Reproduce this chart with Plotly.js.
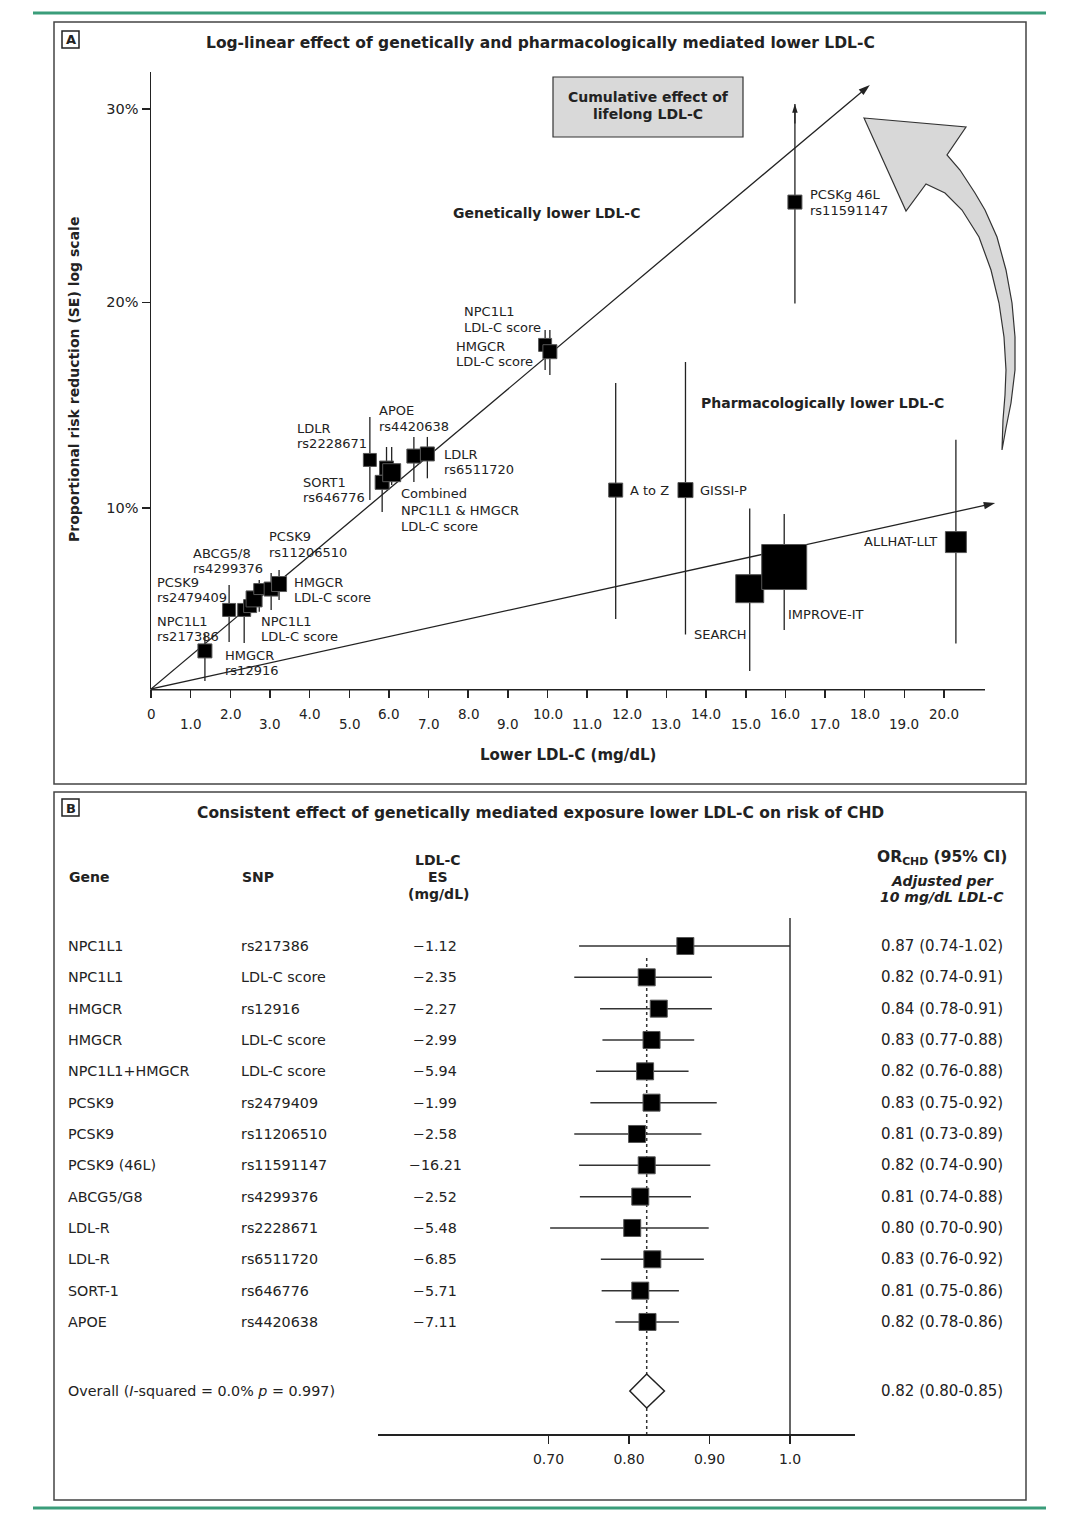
<!DOCTYPE html>
<html><head><meta charset="utf-8">
<script src="https://cdn.plot.ly/plotly-3.0.1.min.js"></script>
<style>html,body{margin:0;padding:0;background:#fff;} #chart{width:1079px;height:1520px;}</style>
</head><body><div id="chart"></div>
<script>
// ================= DATA =================
// Panel A: genetically mediated lower LDL-C (x: lower LDL-C mg/dL, y: position on the published risk-reduction scale)
const geneticNames = ['NPC1L1 rs217386','PCSK9 rs2479409','HMGCR rs12916','NPC1L1 LDL-C score (a)','NPC1L1 LDL-C score (b)','ABCG5/8 rs4299376','PCSK9 rs11206510','HMGCR LDL-C score',
  'LDLR rs2228671','SORT1 rs646776','Combined (a)','Combined (b)','APOE rs4420638','LDLR rs6511720',
  'NPC1L1 LDL-C score','HMGCR LDL-C score','PCSK9 46L rs11591147'];
const geneticX  = [1.36, 1.97, 2.35, 2.50, 2.60, 2.73, 3.03, 3.23, 5.52, 5.83, 5.94, 6.07, 6.63, 6.97, 9.94, 10.06, 16.24];
const geneticY  = [1.97, 4.09, 4.09, 4.29, 4.66, 5.17, 5.17, 5.43, 11.85, 10.69, 11.43, 11.19, 12.05, 12.16, 17.80, 17.45, 25.19];
const geneticHi = [2.85, 5.38, 4.45, 4.97, 5.12, 5.64, 6.00, 6.16, 14.07, 11.49, 12.52, 12.52, 13.04, 13.04, 18.57, 18.57, 30.26];
const geneticLo = [0.41, 2.43, 2.38, 4.00, 4.00, 4.00, 4.09, 4.60, 9.78, 9.16, 10.60, 10.55, 10.71, 10.90, 16.50, 16.24, 19.94];

// Panel A: pharmacologically lower LDL-C (trials)
const pharmNames = ['A to Z','GISSI-P','SEARCH','IMPROVE-IT','ALLHAT-LLT'];
const pharmX  = [11.72, 13.48, 15.10, 15.97, 20.30];
const pharmY  = [10.29, 10.29, 5.19, 6.31, 7.60];
const pharmHi = [15.83, 16.92, 9.34, 9.05, 12.90];
const pharmLo = [3.62, 2.82, 0.93, 3.05, 2.36];

// trend lines (start at origin, end at the arrow tip)
const geneticTrendX = [0, 18.13], geneticTrendY = [0, 31.25];
const pharmTrendX   = [0, 21.29], pharmTrendY   = [0, 9.62];

// Panel A ticks
const xTickValsA = [0,1,2,3,4,5,6,7,8,9,10,11,12,13,14,15,16,17,18,19,20];
const yTickValsA = [9.36, 20, 30];
const yTickTextA = ['10%','20%','30%'];

// Panel B: forest plot
const genes = ['NPC1L1','NPC1L1','HMGCR','HMGCR','NPC1L1+HMGCR','PCSK9','PCSK9','PCSK9 (46L)','ABCG5/G8','LDL-R','LDL-R','SORT-1','APOE'];
const snps  = ['rs217386','LDL-C score','rs12916','LDL-C score','LDL-C score','rs2479409','rs11206510','rs11591147','rs4299376','rs2228671','rs6511720','rs646776','rs4420638'];
const esValues = [-1.12,-2.35,-2.27,-2.99,-5.94,-1.99,-2.58,-16.21,-2.52,-5.48,-6.85,-5.71,-7.11];
const orReported = [0.87,0.82,0.84,0.83,0.82,0.83,0.81,0.82,0.81,0.80,0.83,0.81,0.82];
const ciLowReported  = [0.74,0.74,0.78,0.77,0.76,0.75,0.73,0.74,0.74,0.70,0.76,0.75,0.78];
const ciHighReported = [1.02,0.91,0.91,0.88,0.88,0.92,0.89,0.90,0.88,0.90,0.92,0.86,0.86];
// positions of the marks as drawn in the figure
const orDrawn     = [0.870,0.822,0.837,0.828,0.820,0.828,0.810,0.822,0.814,0.804,0.829,0.814,0.823];
const ciLowDrawn  = [0.738,0.732,0.764,0.767,0.759,0.752,0.732,0.738,0.739,0.702,0.765,0.766,0.783];
const ciHighDrawn = [1.000,0.903,0.903,0.881,0.874,0.909,0.890,0.901,0.877,0.899,0.893,0.862,0.862];
const overallOR = 0.822, overallLow = 0.801, overallHigh = 0.844;
const overallText = '0.82 (0.80-0.85)';
const xTickValsB = [0.7, 0.8, 0.9, 1.0];
const xTickTextB = ['0.70','0.80','0.90','1.0'];

// ================= LAYOUT HELPERS =================
const W = 1079, H = 1520;
const px = x => x / W;
const py = y => 1 - y / H;
const FONT = 'DejaVu Sans';
const INK = '#222';

const annotations = [];
const shapes = [];
function txt(text, x, y, opt) {
  opt = opt || {};
  annotations.push(Object.assign({
    text: text, x: px(x), y: py(y), xref: 'paper', yref: 'paper',
    xanchor: 'left', yanchor: 'middle', showarrow: false,
    font: {family: FONT, size: 13, color: INK}
  }, opt));
}
function lines(arr, x, y, dy, opt) {
  arr.forEach((t, i) => txt(t, x, y + i * dy, opt));
}
function pathFrom(points) {
  return points.map((p, i) => (i ? 'L' : 'M') + px(p[0]).toFixed(5) + ',' + py(p[1]).toFixed(5)).join(' ') + ' Z';
}

// green rules
shapes.push({type:'line', xref:'paper', yref:'paper', x0:px(33), x1:px(1046), y0:py(13), y1:py(13), line:{color:'#3a9d7a', width:3}});
shapes.push({type:'line', xref:'paper', yref:'paper', x0:px(33), x1:px(1046), y0:py(1508), y1:py(1508), line:{color:'#3a9d7a', width:3}});
// panel frames
shapes.push({type:'rect', xref:'paper', yref:'paper', x0:px(54), x1:px(1026), y0:py(784), y1:py(22), line:{color:'#444', width:1.5}});
shapes.push({type:'rect', xref:'paper', yref:'paper', x0:px(54), x1:px(1026), y0:py(1500), y1:py(792), line:{color:'#444', width:1.5}});
// panel letters
shapes.push({type:'rect', xref:'paper', yref:'paper', x0:px(62), x1:px(79), y0:py(48), y1:py(31), line:{color:INK, width:1.5}});
shapes.push({type:'rect', xref:'paper', yref:'paper', x0:px(62), x1:px(79), y0:py(816), y1:py(799), line:{color:INK, width:1.5}});
txt('<b>A</b>', 70.5, 40, {xanchor:'center', font:{family:FONT, size:13, color:INK}});
txt('<b>B</b>', 70.5, 808, {xanchor:'center', font:{family:FONT, size:13, color:INK}});

// titles
const B14 = {family: FONT, size: 14, color: INK};
const B15 = {family: FONT, size: 15, color: INK};
const B155 = {family: FONT, size: 15.5, color: INK};
txt('<b>Log-linear effect of genetically and pharmacologically mediated lower LDL-C</b>', 540, 43, {xanchor:'center', font:B155});
txt('<b>Consistent effect of genetically mediated exposure lower LDL-C on risk of CHD</b>', 540, 813, {xanchor:'center', font:B155});

// panel A axis titles
txt('<b>Lower LDL-C (mg/dL)</b>', 568, 755, {xanchor:'center', font:B15});
txt('<b>Proportional risk reduction (SE) log scale</b>', 74, 380, {xanchor:'center', textangle:-90, font:B14});

// panel A x tick labels (alternating heights)
xTickValsA.forEach(v => {
  annotations.push({text: v === 0 ? '0' : v.toFixed(1), x: v, xref: 'x', y: py(v % 2 === 0 ? 714 : 724), yref: 'paper',
    xanchor: 'center', yanchor: 'middle', showarrow: false, font: {family: FONT, size: 13.5, color: INK}});
});

// group captions
txt('<b>Genetically lower LDL-C</b>', 546, 213, {xanchor:'center', font:B14});
txt('<b>Pharmacologically lower LDL-C</b>', 699, 403, {font:B14});

// "Cumulative effect" box
shapes.push({type:'rect', xref:'paper', yref:'paper', x0:px(553), x1:px(743), y0:py(137), y1:py(77), fillcolor:'#d9d9d9', line:{color:'#333', width:1.2}});
txt('<b>Cumulative effect of</b>', 648, 97, {xanchor:'center', font:B14});
txt('<b>lifelong LDL-C</b>', 648, 114, {xanchor:'center', font:B14});

// big curved arrow
const arrowOutline = [
  [864,118],[966,127],[947,155],
  [960,170],[975,193],[985,210],[997,237],[1006,270],[1012,303],[1015,337],[1015,370],[1011,403],[1006,428],[1002,450],
  [1003,420],[1005,395],[1006,370],[1004,337],[999,303],[991,270],[979,237],[962,210],[945,193],[926,184],
  [906,211]
];
shapes.push({type:'path', xref:'paper', yref:'paper', path: pathFrom(arrowOutline), fillcolor:'#d8d8d8', line:{color:'#333', width:1.2}});

// panel A x-axis line (drawn only to the end of the scale)
shapes.push({type:'line', xref:'paper', yref:'paper', x0:px(150.3), x1:px(985), y0:py(689.7), y1:py(689.7), line:{color:INK, width:1.5}});

// point labels panel A
const LBL = 15.5;
lines(['NPC1L1','rs217386'], 155, 621, LBL);
lines(['HMGCR','rs12916'], 223, 655, LBL);
lines(['PCSK9','rs2479409'], 155, 582, LBL);
lines(['ABCG5/8','rs4299376'], 191, 553, LBL);
lines(['PCSK9','rs11206510'], 267, 537, LBL);
lines(['HMGCR','LDL-C score'], 292, 582, LBL);
lines(['NPC1L1','LDL-C score'], 259, 621, LBL);
lines(['LDLR','rs2228671'], 295, 428, LBL);
lines(['APOE','rs4420638'], 377, 411, LBL);
lines(['SORT1','rs646776'], 301, 482, LBL);
lines(['LDLR','rs6511720'], 442, 454, LBL);
lines(['Combined','NPC1L1 &amp; HMGCR','LDL-C score'], 399, 494, 16);
lines(['NPC1L1','LDL-C score'], 462, 312, LBL);
lines(['HMGCR','LDL-C score'], 454, 346, LBL);
lines(['PCSKg 46L','rs11591147'], 808, 195, LBL);
txt(pharmNames[0], 628, 490);
txt(pharmNames[1], 698, 490);
txt(pharmNames[2], 692, 634);
txt(pharmNames[3], 786, 615);
txt(pharmNames[4], 939, 541, {xanchor:'right'});

// ---------- panel B table text ----------
const ROW0 = 946, ROWSTEP = 31.33, OVERALL_PX = 1391;
const rowOf = pxY => (pxY - ROW0) / ROWSTEP;
const Y2TOP = 918, Y2BOT = 1434;
const T = {family: FONT, size: 14.3, color: INK};

txt('<b>Gene</b>', 67, 877, {font:B14});
txt('<b>SNP</b>', 240, 877, {font:B14});
txt('<b>LDL-C</b>', 438, 860, {xanchor:'center', font:B14});
txt('<b>ES</b>', 438, 877, {xanchor:'center', font:B14});
txt('<b>(mg/dL)</b>', 438, 894, {xanchor:'center', font:B14});
txt('<b>OR<sub>CHD</sub> (95% CI)</b>', 942, 858, {xanchor:'center', font:{family:FONT, size:15.5, color:INK}});
txt('<b><i>Adjusted per</i></b>', 942, 881, {xanchor:'center', font:B14});
txt('<b><i>10 mg/dL LDL-C</i></b>', 942, 897, {xanchor:'center', font:B14});

genes.forEach((g, i) => {
  const y = ROW0 + i * ROWSTEP;
  txt(g, 66, y, {font:T});
  txt(snps[i], 239, y, {font:T});
  txt('\u2212' + Math.abs(esValues[i]).toFixed(2), 435, y, {xanchor:'center', font:T});
  txt(orReported[i].toFixed(2) + ' (' + ciLowReported[i].toFixed(2) + '-' + ciHighReported[i].toFixed(2) + ')', 942, y, {xanchor:'center', font:{family:FONT, size:15, color:INK}});
});
txt('Overall (<i>I</i>-squared = 0.0% <i>p</i> = 0.997)', 66, OVERALL_PX, {font:T});
txt(overallText, 942, OVERALL_PX, {xanchor:'center', font:{family:FONT, size:15, color:INK}});

// null line, overall dotted line, overall diamond
shapes.push({type:'line', xref:'x2', yref:'paper', x0:1.0, x1:1.0, y0:py(Y2BOT), y1:py(Y2TOP), line:{color:'#333', width:1.5}});
shapes.push({type:'line', xref:'x2', yref:'y2', x0:overallOR, x1:overallOR, y0:rowOf(958), y1:rowOf(Y2BOT), line:{color:'#333', width:1.5, dash:'dot'}, layer:'below'});
const dh = 17 / ROWSTEP, oy = rowOf(OVERALL_PX);
shapes.push({type:'path', xref:'x2', yref:'y2',
  path: 'M' + overallLow + ',' + oy + ' L' + overallOR + ',' + (oy - dh) + ' L' + overallHigh + ',' + oy + ' L' + overallOR + ',' + (oy + dh) + ' Z',
  fillcolor:'#ffffff', line:{color:'#222', width:1.5}});

// ================= TRACES =================
const geneticSize = [14,13,13,13,16,11,14,15, 13,14,14,18,14,14, 13,14, 14];
const pharmSize = [14,15,28,45,21];
const sqLine = {color:'#555', width:1};
const pIdx = geneticX.length - 1;

function arrowLine(xs, ys, headSize) {
  return {x: xs, y: ys, mode:'lines+markers', xaxis:'x', yaxis:'y', cliponaxis:false, hoverinfo:'skip',
    line:{color:INK, width:1.3},
    marker:{symbol:['circle','arrow'], size:[0, headSize], color:INK, opacity:1, angleref:'previous', line:{width:0}}};
}

const traces = [
  arrowLine(geneticTrendX, geneticTrendY, 12),
  arrowLine(pharmTrendX, pharmTrendY, 12),
  {x: geneticX, y: geneticY, text: geneticNames, mode:'markers', xaxis:'x', yaxis:'y',
   marker:{symbol:'square', size: geneticSize, color:'#000', opacity:1, line: sqLine},
   error_y:{type:'data', symmetric:false, array: geneticHi.map((h,i)=>h-geneticY[i]), arrayminus: geneticLo.map((l,i)=>geneticY[i]-l), width:0, thickness:1.3, color:INK}},
  arrowLine([geneticX[pIdx], geneticX[pIdx]], [geneticHi[pIdx] - 1, geneticHi[pIdx]], 9),
  {x: pharmX, y: pharmY, text: pharmNames, mode:'markers', xaxis:'x', yaxis:'y',
   marker:{symbol:'square', size: pharmSize, color:'#000', opacity:1, line: sqLine},
   error_y:{type:'data', symmetric:false, array: pharmHi.map((h,i)=>h-pharmY[i]), arrayminus: pharmLo.map((l,i)=>pharmY[i]-l), width:0, thickness:1.3, color:INK}},
  {x: orDrawn, y: genes.map((g,i)=>i), text: genes, mode:'markers', xaxis:'x2', yaxis:'y2',
   marker:{symbol:'square', size:17, color:'#000', opacity:1, line: sqLine},
   error_x:{type:'data', symmetric:false, array: ciHighDrawn.map((h,i)=>h-orDrawn[i]), arrayminus: ciLowDrawn.map((l,i)=>orDrawn[i]-l), width:0, thickness:1.5, color:'#333'}}
];

const XPX_A = 39.65, YPX_A = 19.33;
const layout = {
  width: W, height: H, margin:{l:0, r:0, t:0, b:0},
  paper_bgcolor:'#fff', plot_bgcolor:'rgba(0,0,0,0)', showlegend:false,
  font:{family:FONT, size:13, color:INK},
  xaxis:{domain:[px(151), px(1002)], range:[0, (1002-151)/XPX_A], anchor:'y',
    showline:false, ticks:'outside', ticklen:8, tickwidth:1.5, tickcolor:INK,
    tickmode:'array', tickvals:xTickValsA, showticklabels:false, showgrid:false, zeroline:false, fixedrange:true},
  yaxis:{domain:[py(689), py(72)], range:[0, (689-72)/YPX_A], anchor:'x',
    showline:true, linecolor:INK, linewidth:1.5, ticks:'outside', ticklen:8, tickwidth:1.5, tickcolor:INK,
    tickmode:'array', tickvals:yTickValsA, ticktext:yTickTextA, tickfont:{family:FONT, size:14.5, color:INK},
    showgrid:false, zeroline:false, fixedrange:true},
  xaxis2:{domain:[px(378), px(855)], range:[1-(790-378)/805, 1+(855-790)/805], anchor:'y2',
    showline:true, linecolor:INK, linewidth:1.5, ticks:'outside', ticklen:8, tickwidth:1.5, tickcolor:INK,
    tickmode:'array', tickvals:xTickValsB, ticktext:xTickTextB, tickfont:{family:FONT, size:14, color:INK},
    ticklabelstandoff:4, showgrid:false, zeroline:false, fixedrange:true},
  yaxis2:{domain:[py(Y2BOT), py(Y2TOP)], range:[rowOf(Y2BOT), rowOf(Y2TOP)], anchor:'x2', visible:false, fixedrange:true},
  shapes: shapes,
  annotations: annotations
};

Plotly.newPlot('chart', traces, layout, {displayModeBar:false, staticPlot:true});
</script>
</body></html>
